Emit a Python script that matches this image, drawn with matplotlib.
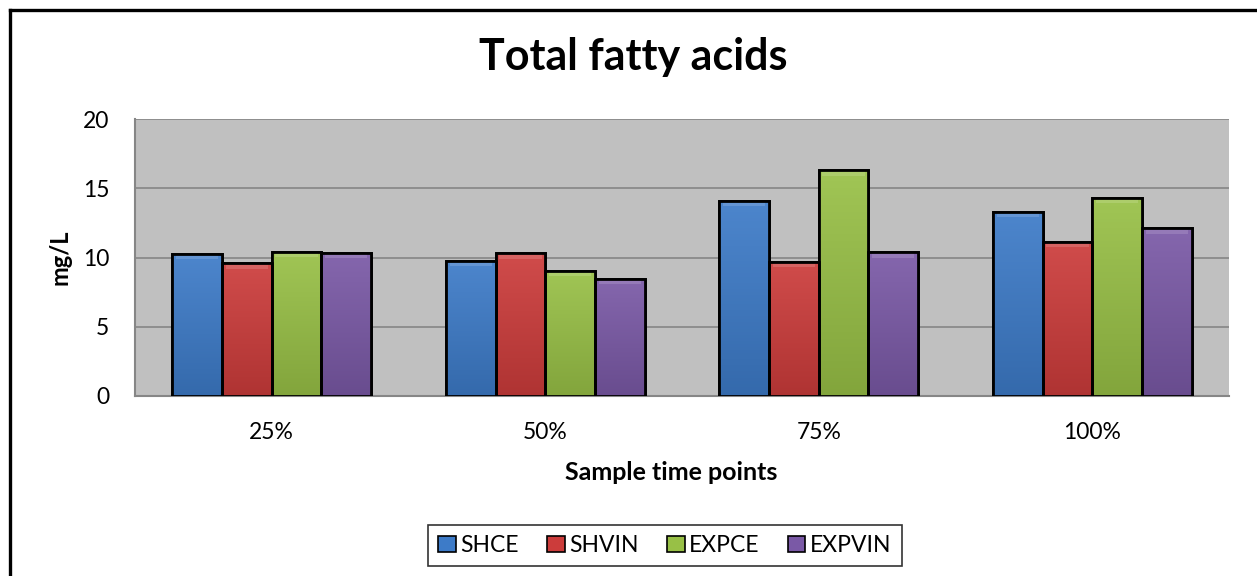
import numpy as np
import matplotlib
matplotlib.use("Agg")
import matplotlib.pyplot as plt
from matplotlib.lines import Line2D
from matplotlib.colors import to_rgb

plt.rcParams['font.family'] = ['Lato', 'DejaVu Sans']

categories = ["25%", "50%", "75%", "100%"]
series_names = ["SHCE", "SHVIN", "EXPCE", "EXPVIN"]
shce = [10.25, 9.76, 14.08, 13.30]
shvin = [9.57, 10.30, 9.69, 11.13]
expce = [10.41, 9.04, 16.30, 14.33]
expvin = [10.34, 8.46, 10.37, 12.10]
colors = ["#3D7BC8", "#CC3C3B", "#98C046", "#7A59A6"]

values = [shce, shvin, expce, expvin]

W, H = 1257, 576
fig = plt.figure(figsize=(W / 100, H / 100), dpi=100)
ax = fig.add_axes([135 / W, 1 - 396 / H, (1229 - 135) / W, (396 - 119) / H])

x = np.arange(len(categories))
w = 1 / 5.5  # excel gap width 150%


def shade(c, f):
    r = np.array(to_rgb(c))
    return np.clip(r * f if f < 1 else r + (1 - r) * (f - 1), 0, 1)


for i, (name, vals) in enumerate(zip(series_names, values)):
    bars = ax.bar(x + (i - 1.5) * w, vals, width=w, color=colors[i], edgecolor="black",
                  linewidth=2.0, label=name, zorder=3)
    # soft vertical gradient like the Excel bevel style
    grad = np.linspace(0, 1, 64).reshape(-1, 1)
    top, bot = shade(colors[i], 1.08), shade(colors[i], 0.86)
    img = top[None, None, :] * (1 - grad[:, :, None]) + bot[None, None, :] * grad[:, :, None]
    for b in bars:
        bx, by = b.get_x(), b.get_y()
        im = ax.imshow(img, extent=[bx, bx + b.get_width(), by, by + b.get_height()],
                       aspect="auto", origin="upper", zorder=3.5)
        im.set_clip_path(b)
        ax.bar(bx + b.get_width() / 2, 0.3, bottom=b.get_height() - 0.38,
               width=b.get_width() * 0.85, color=shade(colors[i], 1.2),
               linewidth=0, zorder=3.6)
        ax.add_patch(plt.Rectangle((bx, by), b.get_width(), b.get_height(),
                                   fill=False, edgecolor="black", linewidth=2.0, zorder=4))

ax.set_facecolor("#C0C0C0")
ax.set_xlim(-0.5, len(categories) - 0.5)
ax.set_ylim(0, 20)
ax.set_yticks([0, 5, 10, 15, 20])
ax.set_xticks(x)
ax.set_xticklabels(categories)
ax.yaxis.grid(True, color="#868686", linewidth=1.2, zorder=0)
ax.tick_params(length=0, labelsize=16.5)
ax.tick_params(axis="y", pad=18.5)
ax.tick_params(axis="x", pad=19)
for s in ["top", "right"]:
    ax.spines[s].set_visible(False)
for s in ["left", "bottom"]:
    ax.spines[s].set_color("#868686")
    ax.spines[s].set_linewidth(1.5)

ax.set_ylabel("mg/L", fontsize=17, fontweight="bold", labelpad=8)
ax.set_xlabel("Sample time points", fontsize=18, fontweight="bold")
ax.xaxis.set_label_coords((671 - 135) / (1229 - 135), -(461 - 396) / (396 - 119))
fig.text(633 / W, 1 - 57 / H, "Total fatty acids", ha="center", va="center",
         fontsize=31, fontweight="bold")

leg = ax.legend(loc="center", bbox_to_anchor=(665 / W, 1 - 545.5 / H),
                bbox_transform=fig.transFigure, ncol=4, fontsize=16.5, frameon=True,
                fancybox=False, edgecolor="black", handlelength=0.75, handleheight=0.75,
                handletextpad=0.2, columnspacing=1.25, borderpad=0.45)
leg.get_frame().set_linewidth(1.2)
for h in leg.legend_handles:
    h.set_linewidth(1.2)

# chart border (left and top only visible)
fig.add_artist(Line2D([10 / W, 10 / W], [0, 1 - 10 / H], color="black",
                      linewidth=2.4, transform=fig.transFigure))
fig.add_artist(Line2D([10 / W, 1], [1 - 10 / H, 1 - 10 / H], color="black",
                      linewidth=2.4, transform=fig.transFigure))

fig.savefig("out.png", dpi=100, facecolor="white")
